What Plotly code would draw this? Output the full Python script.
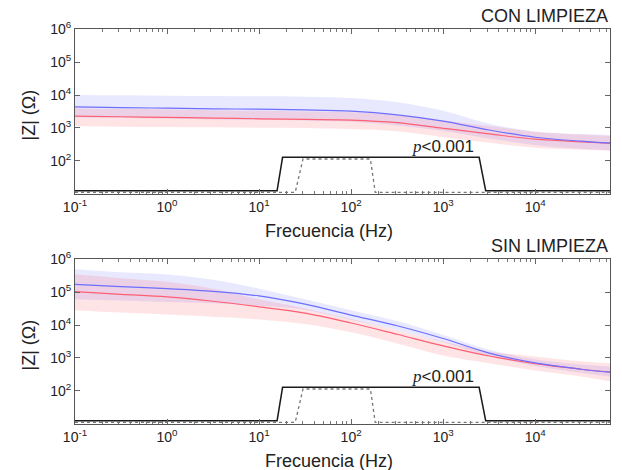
import numpy as np
import plotly.graph_objects as go

# ---------------- data ----------------
freq = [0.1, 0.316, 1, 3.16, 10, 31.6, 100, 316, 1000, 3162, 10000, 31623, 65000]

# CON LIMPIEZA (|Z| in ohm)
con_blue_mean  = [4370, 4170, 3980, 3800, 3720, 3550, 3240, 2510, 1620, 870, 525, 398, 347]
con_blue_upper = [10000, 9800, 9550, 9330, 9120, 8910, 8130, 6030, 3310, 1350, 776, 661, 617]
con_blue_lower = [2090, 2000, 1910, 1820, 1780, 1700, 1550, 1200, 813, 479, 302, 234, 209]
con_red_mean   = [2290, 2190, 2090, 2000, 1900, 1820, 1740, 1450, 980, 660, 457, 380, 347]
con_red_upper  = [3980, 3800, 3630, 3470, 3310, 3160, 3020, 2510, 1700, 1150, 776, 631, 575]
con_red_lower  = [1150, 1100, 1070, 1050, 1020, 1000, 930, 790, 525, 355, 250, 219, 209]

# SIN LIMPIEZA (|Z| in ohm)
sin_blue_mean  = [170000, 145000, 126000, 105000, 76000, 42700, 20000, 9500, 3900, 1410, 710, 457, 372]
sin_blue_upper = [490000, 398000, 339000, 234000, 126000, 60000, 28200, 13200, 5000, 1780, 912, 631, 550]
sin_blue_lower = [60000, 55000, 50000, 45700, 38000, 28800, 14100, 7100, 3000, 1150, 575, 355, 270]
sin_red_mean   = [102000, 85000, 71000, 52500, 35500, 22900, 11500, 5250, 2340, 1150, 676, 457, 372]
sin_red_upper  = [347000, 263000, 204000, 126000, 60000, 31600, 15100, 6900, 3160, 1580, 1120, 794, 692]
sin_red_lower  = [28200, 24000, 20900, 17800, 14800, 10700, 6000, 2750, 1200, 692, 417, 275, 195]

# significance indicators (step traces)
sig_solid_f = [0.1, 15.7, 18, 2460, 2900, 65000]
sig_solid_z = [12.6, 12.6, 129, 129, 12.6, 12.6]
sig_dot_f = [0.1, 24.7, 30, 162, 183, 65000]
sig_dot_z = [11.2, 11.2, 115, 115, 11.2, 11.2]

panel_titles = ["CON LIMPIEZA", "SIN LIMPIEZA"]
x_tickvals = [0.1, 1, 10, 100, 1000, 10000]
x_ticktext = ["10<sup>-1</sup>", "10<sup>0</sup>", "10<sup>1</sup>", "10<sup>2</sup>",
              "10<sup>3</sup>", "10<sup>4</sup>"]
y_tickvals = [100, 1000, 10000, 100000, 1000000]
y_ticktext = ["10<sup>2</sup>", "10<sup>3</sup>", "10<sup>4</sup>", "10<sup>5</sup>", "10<sup>6</sup>"]

# ---------------- figure ----------------
FONT = "Liberation Sans, Arial, sans-serif"
BLUE = "rgb(110,110,255)"
RED = "rgb(255,95,115)"
BLUE_FILL = "rgba(120,120,255,0.17)"
RED_FILL = "rgba(255,120,130,0.2)"

fig = go.Figure()

panels = [
    (con_blue_mean, con_blue_upper, con_blue_lower, con_red_mean, con_red_upper, con_red_lower),
    (sin_blue_mean, sin_blue_upper, sin_blue_lower, sin_red_mean, sin_red_upper, sin_red_lower),
]

for i, (bm, bu, bl, rm, ru, rl) in enumerate(panels):
    xa = "x" if i == 0 else "x2"
    ya = "y" if i == 0 else "y2"
    for lo, up, fc in [(bl, bu, BLUE_FILL), (rl, ru, RED_FILL)]:
        fig.add_trace(go.Scatter(x=freq, y=lo, mode="lines", line=dict(width=0, shape="spline"),
                                 hoverinfo="skip", showlegend=False, xaxis=xa, yaxis=ya))
        fig.add_trace(go.Scatter(x=freq, y=up, mode="lines", line=dict(width=0, shape="spline"),
                                 fill="tonexty", fillcolor=fc,
                                 hoverinfo="skip", showlegend=False, xaxis=xa, yaxis=ya))
    fig.add_trace(go.Scatter(x=freq, y=rm, mode="lines", line=dict(color=RED, width=1.2, shape="spline"),
                             showlegend=False, xaxis=xa, yaxis=ya))
    fig.add_trace(go.Scatter(x=freq, y=bm, mode="lines", line=dict(color=BLUE, width=1.2, shape="spline"),
                             showlegend=False, xaxis=xa, yaxis=ya))
    fig.add_trace(go.Scatter(x=sig_dot_f, y=sig_dot_z, mode="lines",
                             line=dict(color="#777", width=1.3, dash="dot"),
                             showlegend=False, xaxis=xa, yaxis=ya))
    fig.add_trace(go.Scatter(x=sig_solid_f, y=sig_solid_z, mode="lines",
                             line=dict(color="#1a1a1a", width=1.5),
                             showlegend=False, xaxis=xa, yaxis=ya))

minor_vals = [k * 10.0 ** e for e in range(-1, 5) for k in range(2, 10) if k * 10.0 ** e < 65000]

xcommon = dict(type="log", range=[-1, np.log10(65000)],
               tickmode="array", tickvals=x_tickvals, ticktext=x_ticktext,
               ticks="inside", ticklen=5, tickcolor="#666", tickwidth=1,
               minor=dict(tickmode="array", tickvals=minor_vals, ticks="inside", ticklen=3,
                          tickcolor="#777", tickwidth=1, showgrid=False),
               showline=True, linecolor="#555", linewidth=1, mirror="allticks",
               showgrid=False, zeroline=False,
               tickfont=dict(family=FONT, size=14, color="#222"))
ycommon = dict(type="log", range=[1, 6],
               tickmode="array", tickvals=y_tickvals, ticktext=y_ticktext,
               ticks="inside", ticklen=5, tickcolor="#666", tickwidth=1,
               showline=True, linecolor="#555", linewidth=1, mirror="allticks",
               showgrid=False, zeroline=False,
               tickfont=dict(family=FONT, size=14, color="#222"))

fig.update_layout(
    width=622, height=470,
    margin=dict(l=75, r=12, t=29, b=46),
    plot_bgcolor="white", paper_bgcolor="white",
    font=dict(family=FONT, color="#222"),
    xaxis=dict(xcommon, domain=[0, 1], anchor="y"),
    yaxis=dict(ycommon, domain=[0.5823, 1], anchor="x"),
    xaxis2=dict(xcommon, domain=[0, 1], anchor="y2"),
    yaxis2=dict(ycommon, domain=[0, 0.4177], anchor="x2"),
)

annotations = []
for i, (ttl, yd) in enumerate(zip(panel_titles, [[0.5823, 1], [0, 0.4177]])):
    xr = "x" if i == 0 else "x2"
    yr = "y" if i == 0 else "y2"
    annotations.append(dict(text=ttl, xref="paper", yref="paper", x=1, y=yd[1],
                            xanchor="right", yanchor="bottom", yshift=1, showarrow=False,
                            font=dict(family=FONT, size=18, color="#222")))
    annotations.append(dict(text="Frecuencia (Hz)", xref="paper", yref="paper", x=0.475, y=yd[0],
                            xanchor="center", yanchor="middle", yshift=-37, showarrow=False,
                            font=dict(family=FONT, size=18, color="#222")))
    annotations.append(dict(text="|Z| (Ω)", xref="paper", yref="paper", x=0, xshift=-46,
                            y=(yd[0] + yd[1]) / 2, yshift=-4,
                            xanchor="center", yanchor="middle", textangle=-90, showarrow=False,
                            font=dict(family=FONT, size=18, color="#222")))
    annotations.append(dict(text='<span style="font-family:\'Liberation Serif\',\'Times New Roman\',serif"><i>p</i></span>&lt;0.001',
                            xref=xr, yref=yr, x=np.log10(1000), y=np.log10(129),
                            xanchor="center", yanchor="bottom", yshift=-1, showarrow=False,
                            font=dict(family=FONT, size=17, color="#222")))

fig.update_layout(annotations=annotations)

fig.write_html("out.html", config={"displayModeBar": False},
               post_script="document.body.style.margin='0';document.body.style.padding='0';")
